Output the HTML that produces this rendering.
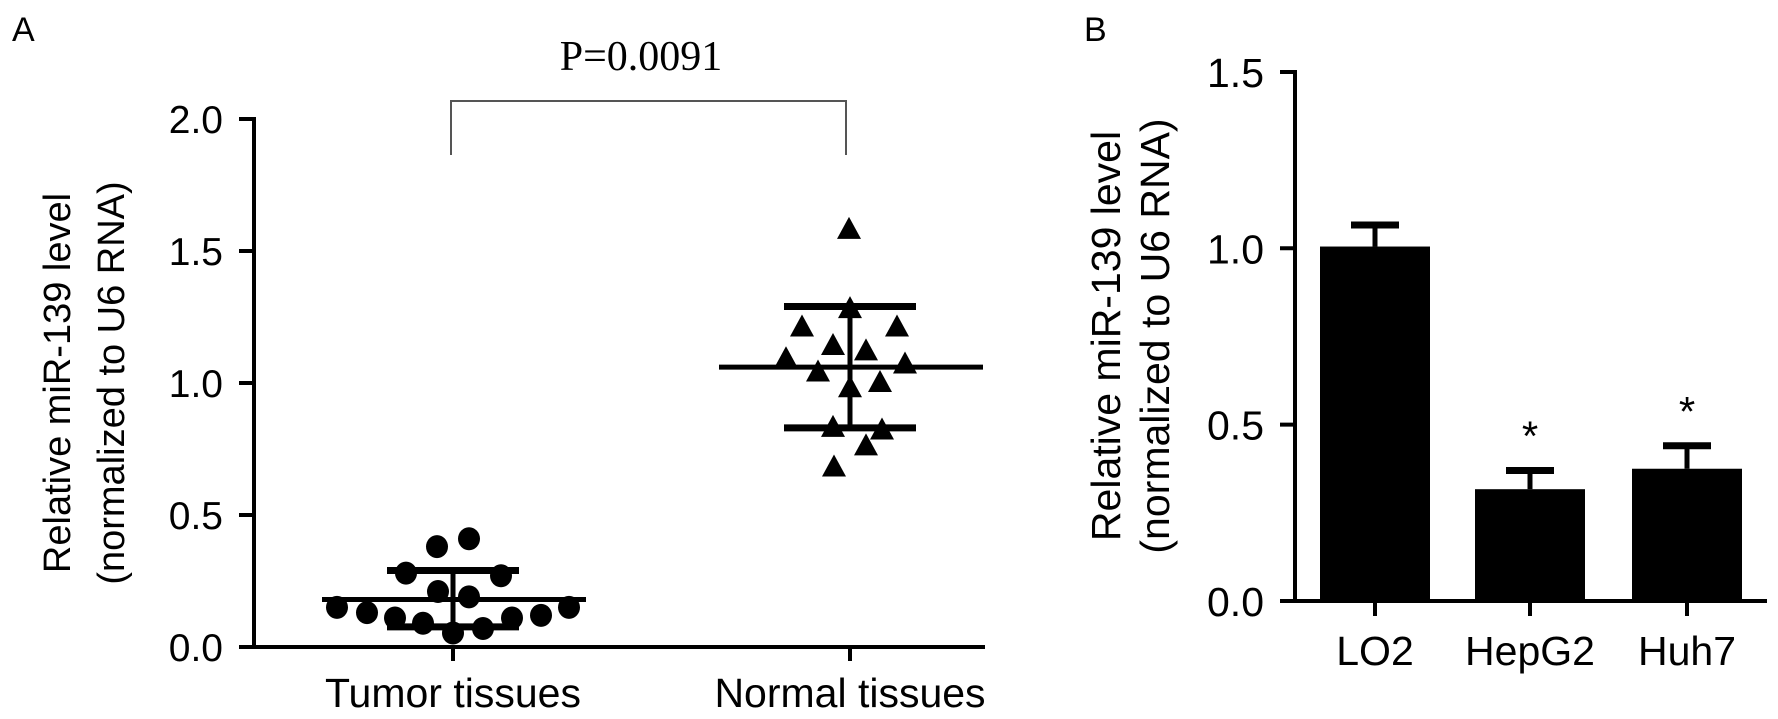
<!DOCTYPE html>
<html><head><meta charset="utf-8"><style>
body{margin:0;background:#fff;}
svg{display:block;font-family:"Liberation Sans",Arial,sans-serif;}
</style></head><body>
<svg id="c" width="1778" height="719" viewBox="0 0 1778 719">
<text x="12" y="41" font-size="34">A</text>
<text x="1084" y="41" font-size="34">B</text>
</svg>
<script>
const aTicks=[0,0.5,1.0,1.5,2.0];
const aCats=["Tumor tissues","Normal tissues"];
const tumorVals=[0.38,0.41,0.28,0.27,0.21,0.19,0.11,0.09,0.053,0.07,0.11,0.12,0.15,0.15,0.13];
const tumorX=[-16,16,-47,48,-15,16,-58,-30,0,30,59,88,116,-116,-86];
const normalVals=[1.58,1.28,1.21,1.21,1.14,1.12,1.09,1.04,1.00,0.98,0.83,0.82,0.76,0.68,1.07];
const normalX=[-1,0,-48,47,-17,16,-64,-32,30,0,-17,32,16,-16,55];
const tumorStats=[0.18,0.29,0.076];
const normalStats=[1.06,1.29,0.83];
const pText="P=0.0091";
const bCats=["LO2","HepG2","Huh7"];
const bVals=[1.005,0.317,0.375];
const bErr=[0.061,0.053,0.065];
const bStars=["","*","*"];
const bTicks=[0,0.5,1.0,1.5];

const svg=document.getElementById('c');const NS="http://www.w3.org/2000/svg";
function mk(t,a,p){const e=document.createElementNS(NS,t);for(const k in a)e.setAttribute(k,a[k]);(p||svg).appendChild(e);return e;}
// Panel A
const ay=v=>647-v*264;const aX=[453,850];
const ga=mk('g',{});


mk('line',{x1:254,y1:ay(2),x2:254,y2:ay(0)+2,stroke:'#000','stroke-width':4},ga);
mk('line',{x1:239,y1:ay(0),x2:985,y2:ay(0),stroke:'#000','stroke-width':4},ga);
aTicks.forEach(v=>{
 mk('line',{x1:239,x2:256,y1:ay(v),y2:ay(v),stroke:'#000','stroke-width':4},ga);
 const t=mk('text',{x:223,y:ay(v)+14,'font-size':39,'text-anchor':'end'},ga);t.textContent=v.toFixed(1);
 
 
});
aCats.forEach((c,i)=>{
 mk('line',{x1:aX[i],x2:aX[i],y1:ay(0),y2:ay(0)+14,stroke:'#000','stroke-width':4},ga);
 const t=mk('text',{x:aX[i],y:707,'font-size':41,'text-anchor':'middle'},ga);t.textContent=c;
 
 });
const yt=mk('text',{transform:'translate(70,383) rotate(-90)','font-size':38,'text-anchor':'middle'},ga);
yt.innerHTML='<tspan x="0" dy="0">Relative miR-139 level</tspan><tspan x="0" dy="54">(normalized to U6 RNA)</tspan>';


function stats(cx,s){
 mk('line',{x1:cx-131,x2:cx+133,y1:ay(s[0]),y2:ay(s[0]),stroke:'#000','stroke-width':5},ga);
 mk('line',{x1:cx-66,x2:cx+66,y1:ay(s[1]),y2:ay(s[1]),stroke:'#000','stroke-width':7},ga);
 mk('line',{x1:cx-66,x2:cx+66,y1:ay(s[2]),y2:ay(s[2]),stroke:'#000','stroke-width':7},ga);
 mk('line',{x1:cx,x2:cx,y1:ay(s[1]),y2:ay(s[2]),stroke:'#000','stroke-width':5},ga);
}
stats(aX[0],tumorStats);stats(aX[1],normalStats);
tumorVals.forEach((v,i)=>{const c=mk('ellipse',{cx:aX[0]+tumorX[i],cy:ay(v),rx:11,ry:11.5,fill:'#000'},ga);
 
 });
normalVals.forEach((v,i)=>{const x=aX[1]+normalX[i],y=ay(v);
 const p=mk('polygon',{points:`${x},${y-13} ${x-12},${y+9} ${x+12},${y+9}`,fill:'#000'},ga);
 
 });
const br=mk('path',{d:`M${aX[0]-2},155 V101 H${aX[1]-4} V155`,fill:'none',stroke:'#555','stroke-width':2},ga);


const pt=mk('text',{x:641,y:70,'font-size':42,'text-anchor':'middle','font-family':'"Liberation Serif",serif'},ga);pt.textContent=pText;


// Panel B
const by=v=>601-v*352.7;const bX=[1375,1530,1687];const bw=110;
const gb=mk('g',{});


mk('line',{x1:1295,y1:by(1.5),x2:1295,y2:by(0),stroke:'#000','stroke-width':4},gb);
mk('line',{x1:1280,y1:by(0),x2:1767,y2:by(0),stroke:'#000','stroke-width':4},gb);
bTicks.forEach(v=>{mk('line',{x1:1280,x2:1297,y1:by(v),y2:by(v),stroke:'#000','stroke-width':4},gb);
 const t=mk('text',{x:1264,y:by(v)+15,'font-size':41,'text-anchor':'end'},gb);t.textContent=v.toFixed(1);
 
 });
const yt2=mk('text',{transform:'translate(1120,336) rotate(-90)','font-size':41,'text-anchor':'middle'},gb);
yt2.innerHTML='<tspan x="0" dy="0">Relative miR-139 level</tspan><tspan x="0" dy="49">(normalized to U6 RNA)</tspan>';


bCats.forEach((c,i)=>{const x=bX[i];
 const r=mk('rect',{x:x-bw/2,y:by(bVals[i]),width:bw,height:by(0)-by(bVals[i]),fill:'#000'},gb);
 
 
 const e=bVals[i]+bErr[i];
 mk('line',{x1:x,x2:x,y1:by(e),y2:by(bVals[i]),stroke:'#000','stroke-width':5},gb);
 mk('line',{x1:x-24,x2:x+24,y1:by(e),y2:by(e),stroke:'#000','stroke-width':7},gb);
 mk('line',{x1:x,x2:x,y1:by(0),y2:by(0)+15,stroke:'#000','stroke-width':4},gb);
 if(bStars[i]){const s=mk('text',{x:x,y:by(e+0.13)+26,'font-size':42,'text-anchor':'middle'},gb);s.textContent=bStars[i];
  
  }
 const t=mk('text',{x:x,y:665,'font-size':41,'text-anchor':'middle'},gb);t.textContent=c;
 
 
});
</script>
</body></html>
